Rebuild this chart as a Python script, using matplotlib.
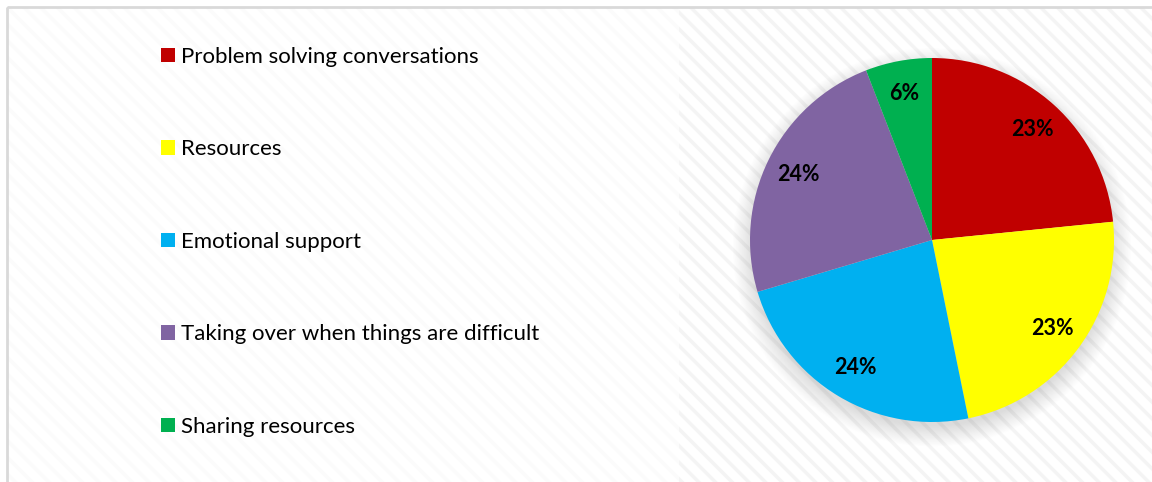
import numpy as np
import matplotlib
matplotlib.use("Agg")
import matplotlib.pyplot as plt
from matplotlib.patches import Rectangle

categories = [
    "Problem solving conversations",
    "Resources",
    "Emotional support",
    "Taking over when things are difficult",
    "Sharing resources",
]
shares = [23.4, 23.4, 23.6, 23.7, 5.9]
colors = ["#C00000", "#FFFF00", "#00B0F0", "#8064A2", "#00B050"]

plt.rcParams["font.family"] = ["Lato", "DejaVu Sans"]
plt.rcParams["hatch.linewidth"] = 2.5

W, H = 1152, 482
fig = plt.figure(figsize=(W / 100, H / 100), dpi=100)

# faint striped background over the whole chart, stronger over the plot area
bg = fig.add_axes([0, 0, 1, 1])
bg.set_xlim(0, W)
bg.set_ylim(H, 0)
bg.axis("off")
bg.add_patch(Rectangle((8, 8), W, H, facecolor="white", edgecolor="#fbfbfb",
                       hatch="\\\\", linewidth=0))
bg.add_patch(Rectangle((679, 8), W, H, facecolor="white", edgecolor="#f4f4f4",
                       hatch="\\\\", linewidth=0))
bg.add_patch(Rectangle((7, 7), W + 10, H + 10, facecolor="none",
                       edgecolor="#d9d9d9", linewidth=2))

# pie axes: center (932, 240) px, radius 182 px
cx, cy, r = 932, 240, 182
lim = 1.3
size = 2 * lim * r
ax = fig.add_axes([(cx - size / 2) / W, (H - cy - size / 2) / H, size / W, size / H])

# soft drop shadow behind the pie
g = np.linspace(-lim, lim, 400)
xx, yy = np.meshgrid(g, g)
d = np.hypot(xx, yy + 0.04)
alpha = np.clip((1.1 - d) / 0.12, 0, 1) * 0.14
shadow = np.zeros((400, 400, 4))
shadow[..., 3] = alpha
ax.imshow(shadow, extent=(-lim, lim, -lim, lim), origin="lower", zorder=0)

wedges, texts, autotexts = ax.pie(
    shares, colors=colors, startangle=90, counterclock=False,
    autopct="%.0f%%", pctdistance=0.82, radius=1.0,
    wedgeprops=dict(linewidth=0),
    textprops=dict(fontsize=15.5, fontweight="bold", color="black"),
)
for w in wedges:
    w.set_zorder(2)
for t in autotexts:
    t.set_zorder(3)
ax.set_xlim(-lim, lim)
ax.set_ylim(-lim, lim)
ax.set_aspect("equal")
ax.axis("off")

fig.legend(
    wedges, categories, loc="upper left", bbox_to_anchor=(152 / W, 1 - 38 / H),
    frameon=False, fontsize=16, handlelength=0.62, handleheight=0.62,
    handletextpad=0.3, labelspacing=3.26, borderaxespad=0,
)

fig.savefig("out.png", dpi=100)
